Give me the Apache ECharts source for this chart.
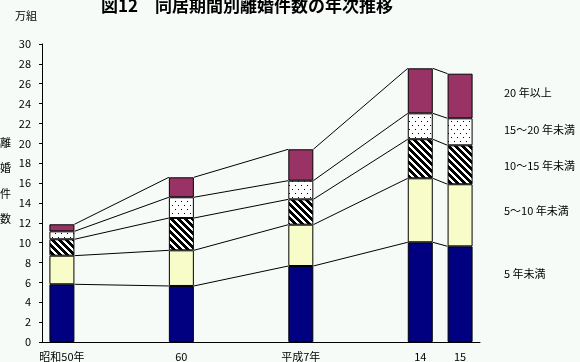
<!DOCTYPE html>
<html>
<head>
<meta charset="utf-8">
<script src="https://cdn.jsdelivr.net/npm/echarts@6/dist/echarts.min.js"></script>
<style>
html,body{margin:0;padding:0;background:#f6fbf8;}
#chart{width:580px;height:362px;}
</style>
</head>
<body>
<div id="chart"></div>
<script>
// ---- data ----
const categories = ['昭和50年', '', '', '60', '', '', '平成7年', '', '', '14', '15'];
const seriesNames = ['5 年未満', '5～10 年未満', '10～15 年未満', '15～20 年未満', '20 年以上'];
const under5   = [5.81, null, null, 5.64, null, null, 7.65, null, null, 10.04, 9.63];
const y5to10   = [2.88, null, null, 3.59, null, null, 4.16, null, null, 6.44, 6.25];
const y10to15  = [1.65, null, null, 3.25, null, null, 2.55, null, null, 3.93, 3.92];
const y15to20  = [0.80, null, null, 2.09, null, null, 1.88, null, null, 2.61, 2.72];
const over20   = [0.71, null, null, 2.01, null, null, 3.16, null, null, 4.53, 4.49];
const yMin = 0, yMax = 30, yStep = 2;
const titleText = '図12　同居期間別離婚件数の年次推移';
const unitText = '万組';
const yAxisName = ['離', '婚', '件', '数'];

// ---- patterns ----
function makeTile(w, h, fn) {
  const c = document.createElement('canvas');
  c.width = w; c.height = h;
  const ctx = c.getContext('2d');
  const img = ctx.createImageData(w, h);
  for (let y = 0; y < h; y++) for (let x = 0; x < w; x++) {
    const k = (y * w + x) * 4;
    const black = fn(x, y);
    const v = black ? 0 : 255;
    img.data[k] = v; img.data[k + 1] = v; img.data[k + 2] = v; img.data[k + 3] = 255;
  }
  ctx.putImageData(img, 0, 0);
  return c;
}
const dotTile = makeTile(6, 8, (x, y) => (x === 1 && y === 1) || (x === 4 && y === 5));
const hatchTile = makeTile(7, 7, (x, y) => (((x - y) % 7) + 7) % 7 < 4);

const fills = [
  '#000080',
  '#f8fcc8',
  { image: hatchTile, repeat: 'repeat' },
  { image: dotTile, repeat: 'repeat' },
  '#993366'
];
const seriesData = [under5, y5to10, y10to15, y15to20, over20];
const BAR_W = 25;

// connector lines between consecutive bars at each cumulative level
const connectors = [];
const idx = [];
categories.forEach((c, i) => { if (under5[i] != null) idx.push(i); });
for (let lvl = 0; lvl < seriesData.length; lvl++) {
  const cum = idx.map(i => {
    let s = 0;
    for (let k = 0; k <= lvl; k++) s += seriesData[k][i];
    return s;
  });
  for (let j = 0; j < idx.length - 1; j++) {
    connectors.push([idx[j], idx[j + 1], cum[j], cum[j + 1]]);
  }
}

const FONT = '"Noto Sans CJK JP", sans-serif';
const chart = echarts.init(document.getElementById('chart'), null, { renderer: 'canvas' });

const barSeries = seriesData.map((d, k) => ({
  name: seriesNames[k],
  type: 'bar',
  stack: 'total',
  barWidth: BAR_W,
  data: d,
  itemStyle: { color: fills[k], borderColor: '#000', borderWidth: 1 },
  emphasis: { disabled: true },
  z: 3
}));

const legendPos = [275, 212, 167, 131, 94];
const graphics = [
  { type: 'text', left: 15, top: 10, style: { text: unitText, font: '11px ' + FONT, fill: '#000' } },
  { type: 'text', left: 0, top: 130, style: { text: yAxisName.join('\n'), font: '11px ' + FONT, fill: '#000', lineHeight: 25.5 } }
];
seriesNames.forEach((n, k) => {
  graphics.push({ type: 'text', left: 504, top: legendPos[k] - 7, style: { text: n, font: '11px ' + FONT, fill: '#000' } });
});

chart.setOption({
  backgroundColor: '#f6fbf8',
  animation: false,
  title: {
    text: titleText, left: 101, top: -3, padding: 0,
    textStyle: { fontFamily: FONT, fontSize: 17, fontWeight: 'bold', color: '#000' }
  },
  grid: { left: 42, right: 100, top: 44, bottom: 20, containLabel: false },
  xAxis: {
    type: 'category',
    data: categories,
    axisLine: { lineStyle: { color: '#000', width: 1 } },
    axisTick: { show: false },
    axisLabel: { interval: 0, color: '#000', fontFamily: FONT, fontSize: 11, margin: 9 }
  },
  yAxis: {
    type: 'value', min: yMin, max: yMax, interval: yStep,
    axisLine: { show: true, lineStyle: { color: '#000', width: 1 } },
    axisTick: { show: true, length: 3, lineStyle: { color: '#000' } },
    axisLabel: { color: '#000', fontFamily: FONT, fontSize: 11, margin: 11 },
    splitLine: { show: false }
  },
  graphic: graphics,
  series: barSeries.concat([{
    type: 'custom',
    data: connectors,
    encode: { x: [0, 1], y: [2, 3] },
    silent: true,
    z: 2,
    renderItem: function (params, api) {
      const p1 = api.coord([api.value(0), api.value(2)]);
      const p2 = api.coord([api.value(1), api.value(3)]);
      const h = BAR_W / 2;
      return {
        type: 'line',
        shape: { x1: p1[0] + h, y1: p1[1], x2: p2[0] - h, y2: p2[1] },
        style: { stroke: '#000', lineWidth: 1 }
      };
    }
  }])
});
</script>
</body>
</html>
